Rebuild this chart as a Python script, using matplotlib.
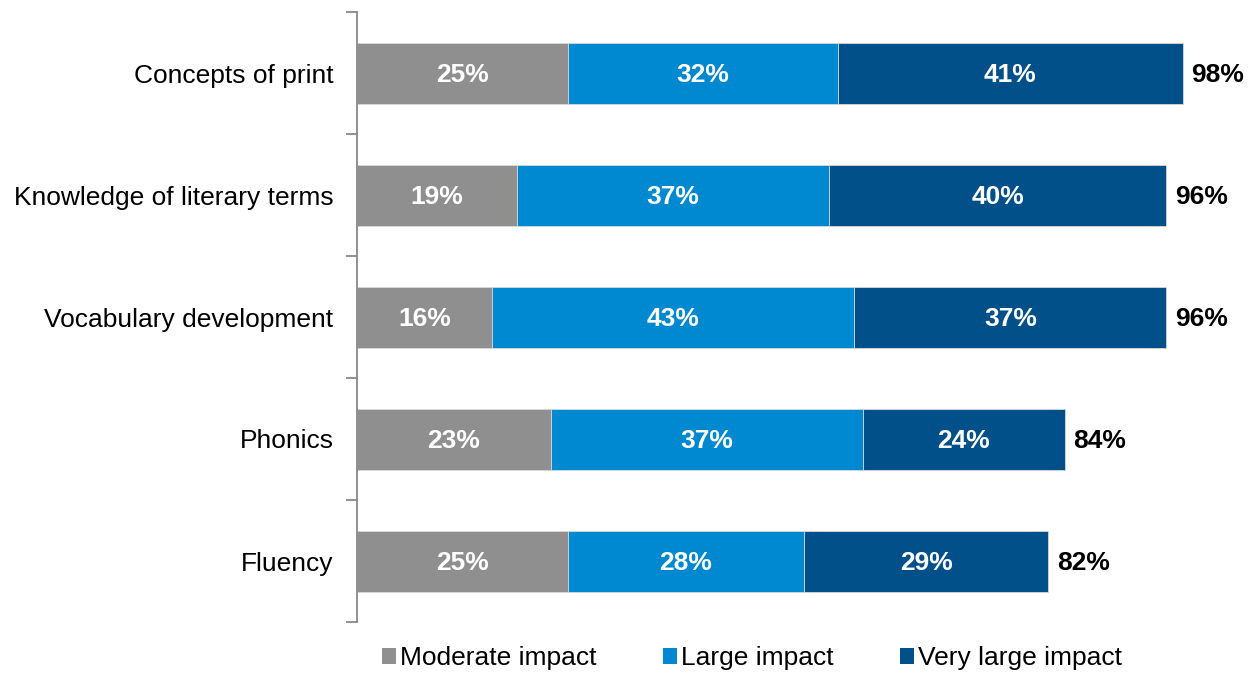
import matplotlib
matplotlib.use("Agg")
import matplotlib.pyplot as plt
from matplotlib.patches import Patch
import numpy as np

plt.rcParams['font.family'] = ['Liberation Sans', 'DejaVu Sans']

categories = ["Concepts of print", "Knowledge of literary terms", "Vocabulary development", "Phonics", "Fluency"]
series_names = ["Moderate impact", "Large impact", "Very large impact"]
moderate = [25, 19, 16, 23, 25]
large = [32, 37, 43, 37, 28]
very_large = [41, 40, 37, 24, 29]
totals = [98, 96, 96, 84, 82]
colors = ["#8f8f8f", "#0088d1", "#02508a"]

fig = plt.figure(figsize=(12.52, 6.74), dpi=100)
ax = fig.add_axes([357/1252, 1-622/674, (1240-357)/1252, 610/674])

y = np.arange(len(categories))
left = np.zeros(len(categories))
for vals, col in zip([moderate, large, very_large], colors):
    ax.barh(y, vals, left=left, height=0.5, color=col, edgecolor='#d8d8d8', linewidth=0.6)
    for yi, l, v in zip(y, left, vals):
        ax.text(l + v/2, yi, f"{v}%", ha='center', va='center_baseline', color='white',
                fontsize=19, fontweight='bold')
    left = left + np.array(vals)

for yi, t in zip(y, totals):
    ax.text(t + 1.0, yi, f"{t}%", ha='left', va='center_baseline', color='black',
            fontsize=19, fontweight='bold')

ax.set_xlim(0, (1240-357)/8.43)
ax.set_ylim(4.5, -0.5)
ax.set_yticks(y)
ax.set_yticklabels(categories, fontsize=19)
ax.tick_params(axis='y', which='major', length=0, pad=17)
ax.set_yticks(np.arange(-0.5, 5.0, 1.0), minor=True)
ax.tick_params(axis='y', which='minor', length=8, width=1.3, color='#888888', direction='out')
ax.set_xticks([])
for s in ['top', 'right', 'bottom']:
    ax.spines[s].set_visible(False)
ax.spines['left'].set_color('#888888')
ax.spines['left'].set_linewidth(1.3)

handles = [Patch(facecolor=c, edgecolor='none') for c in colors]
fig.legend(handles, series_names, loc='center', bbox_to_anchor=(752/1252, 1-658/674),
           ncol=3, frameon=False, fontsize=19, handlelength=0.55, handleheight=0.55,
           handletextpad=0.15, columnspacing=2.5, borderpad=0)

fig.savefig("out.png", dpi=100)
